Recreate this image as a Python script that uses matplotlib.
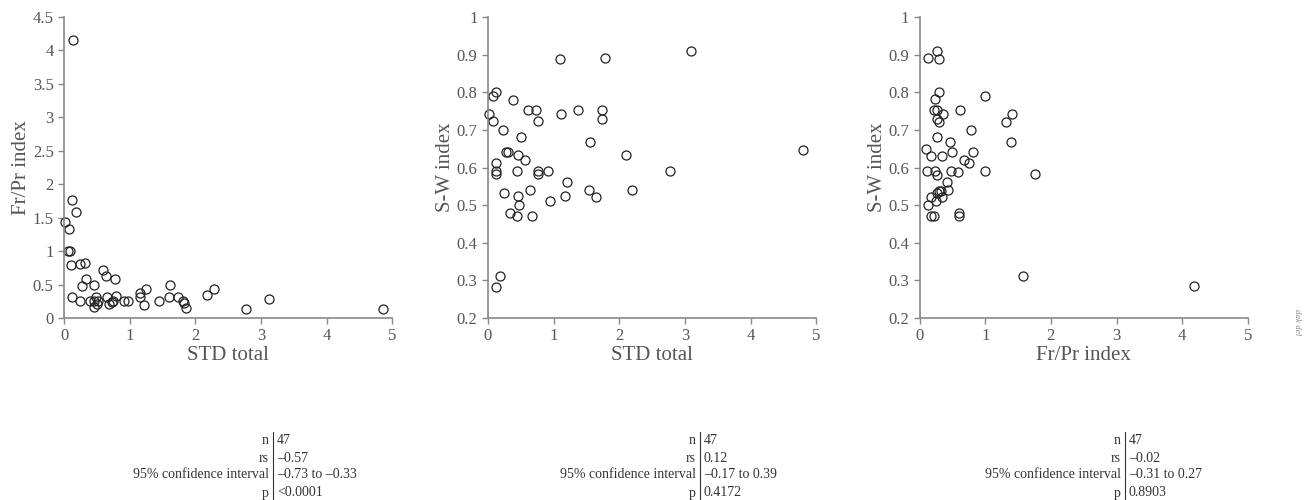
import numpy as np
import matplotlib
matplotlib.use("Agg")
import matplotlib.pyplot as plt
from matplotlib.lines import Line2D

plt.rcParams['font.family'] = ['Liberation Serif', 'DejaVu Serif']

# panel 1: STD total vs Fr/Pr index
std_a = [0.13, 0.12, 0.18, 0.01, 0.07, 0.06, 0.09, 0.11, 0.24, 0.32, 0.59, 0.64,
         0.78, 0.34, 0.28, 0.45, 1.61, 2.29, 2.18, 1.24, 1.16, 3.12, 2.77, 4.85,
         0.12, 0.24, 0.39, 0.46, 0.46, 0.49, 0.52, 0.50, 0.66, 0.68, 0.75, 0.79,
         0.73, 0.91, 0.98, 1.15, 1.22, 1.44, 1.60, 1.73, 1.81, 1.82, 1.86]
frpr_a = [4.16, 1.77, 1.59, 1.43, 1.33, 1.0, 1.0, 0.79, 0.80, 0.82, 0.72, 0.63,
          0.58, 0.59, 0.48, 0.50, 0.49, 0.44, 0.34, 0.43, 0.37, 0.29, 0.14, 0.13,
          0.32, 0.25, 0.25, 0.25, 0.16, 0.32, 0.26, 0.21, 0.32, 0.21, 0.26, 0.33,
          0.24, 0.26, 0.26, 0.32, 0.19, 0.26, 0.32, 0.32, 0.26, 0.23, 0.15]

# panel 2: STD total vs S-W index
std_b = [1.10, 1.78, 3.10, 4.80, 0.13, 0.08, 0.39, 0.02, 0.08, 0.61, 0.73, 0.77,
         1.11, 1.38, 1.74, 1.74, 0.23, 0.51, 1.55, 0.27, 0.30, 0.46, 0.57, 2.10,
         0.12, 0.12, 0.12, 0.45, 0.76, 0.76, 0.91, 2.78, 1.20, 0.25, 0.46, 0.47,
         0.64, 1.54, 1.65, 2.19, 1.18, 0.94, 0.33, 0.45, 0.67, 0.19, 0.13]
sw_b = [0.888, 0.890, 0.909, 0.646, 0.80, 0.79, 0.78, 0.743, 0.723, 0.752, 0.752, 0.724,
        0.743, 0.752, 0.752, 0.729, 0.70, 0.682, 0.668, 0.642, 0.642, 0.632, 0.62, 0.632,
        0.612, 0.59, 0.582, 0.59, 0.591, 0.582, 0.591, 0.59, 0.561, 0.531, 0.523, 0.50,
        0.54, 0.54, 0.522, 0.54, 0.523, 0.51, 0.48, 0.472, 0.472, 0.312, 0.282]

# panel 3: Fr/Pr index vs S-W index
frpr_c = [0.13, 0.26, 0.29, 0.30, 0.24, 1.00, 0.22, 0.27, 0.62, 0.26, 0.30, 0.35,
          1.31, 1.41, 1.40, 0.79, 0.27, 0.10, 0.18, 0.34, 0.47, 0.49, 0.82, 0.67,
          0.75, 0.11, 0.24, 0.27, 0.48, 0.58, 0.99, 1.76, 0.42, 0.43, 0.30, 0.32,
          0.26, 0.17, 0.34, 0.25, 0.13, 0.17, 0.22, 0.60, 0.60, 1.57, 4.18]
sw_c = [0.89, 0.909, 0.888, 0.80, 0.781, 0.79, 0.752, 0.752, 0.752, 0.729, 0.721, 0.741,
        0.721, 0.741, 0.668, 0.70, 0.68, 0.65, 0.63, 0.631, 0.668, 0.642, 0.642, 0.62,
        0.612, 0.59, 0.59, 0.579, 0.59, 0.589, 0.59, 0.582, 0.561, 0.539, 0.538, 0.538,
        0.531, 0.522, 0.522, 0.51, 0.50, 0.471, 0.471, 0.48, 0.472, 0.312, 0.284]

stat_labels = ["n", "rs", "95% confidence interval", "p"]
stats = [["47", "\u20130.57", "\u20130.73 to \u20130.33", "<0.0001"],
         ["47", "0.12", "\u20130.17 to 0.39", "0.4172"],
         ["47", "\u20130.02", "\u20130.31 to 0.27", "0.8903"]]

xlabels = ["STD total", "STD total", "Fr/Pr index"]
ylabels = ["Fr/Pr index", "S-W index", "S-W index"]

grey = "#555555"
fig = plt.figure(figsize=(13.08, 5.0), dpi=100)
lefts = [0.049, 0.373, 0.703]
axes = [fig.add_axes([l, 0.364, 0.251, 0.602]) for l in lefts]

data = [(std_a, frpr_a), (std_b, sw_b), (frpr_c, sw_c)]
for i, ax in enumerate(axes):
    x, y = data[i]
    ax.plot(x, y, 'o', mfc='none', mec='#222222', mew=0.9, ms=6.5, clip_on=False)
    ax.set_xlim(0, 5)
    ax.set_xticks(np.arange(0, 6, 1))
    if i == 0:
        ax.set_ylim(0, 4.5)
        ax.set_yticks(np.arange(0, 4.51, 0.5))
    else:
        ax.set_ylim(0.2, 1.0)
        ax.set_yticks(np.arange(0.2, 1.01, 0.1))
    ax.yaxis.set_major_formatter(matplotlib.ticker.FormatStrFormatter('%g'))
    for s in ['top', 'right']:
        ax.spines[s].set_visible(False)
    for s in ['left', 'bottom']:
        ax.spines[s].set_color('#888888')
        ax.spines[s].set_linewidth(1.2)
    ax.tick_params(colors='#888888', labelcolor=grey, labelsize=12, length=4, width=1)
    ax.set_xlabel(xlabels[i], fontsize=15, color=grey, labelpad=1)
    ax.set_ylabel(ylabels[i], fontsize=15, color=grey, labelpad=1)

# statistics tables under each panel
sep_x = [273 / 1308, 700 / 1308, 1125 / 1308]
row_y = [441, 458, 475, 493]
for i in range(3):
    for j in range(4):
        yy = 1 - row_y[j] / 500
        fig.text(sep_x[i] - 0.003, yy, stat_labels[j], ha='right', va='center',
                 fontsize=10, color='#333333')
        fig.text(sep_x[i] + 0.003, yy, stats[i][j], ha='left', va='center',
                 fontsize=10, color='#333333')
    fig.add_artist(Line2D([sep_x[i], sep_x[i]], [1 - 432 / 500, 1 - 500 / 500],
                          transform=fig.transFigure, color='#333333', lw=0.8))

fig.text(1297 / 1308, 1 - 322 / 500, "dak del", rotation=-90, fontsize=6.5,
         color='#888888', ha='center', va='center', style='italic')

fig.savefig("out.png", dpi=100)
